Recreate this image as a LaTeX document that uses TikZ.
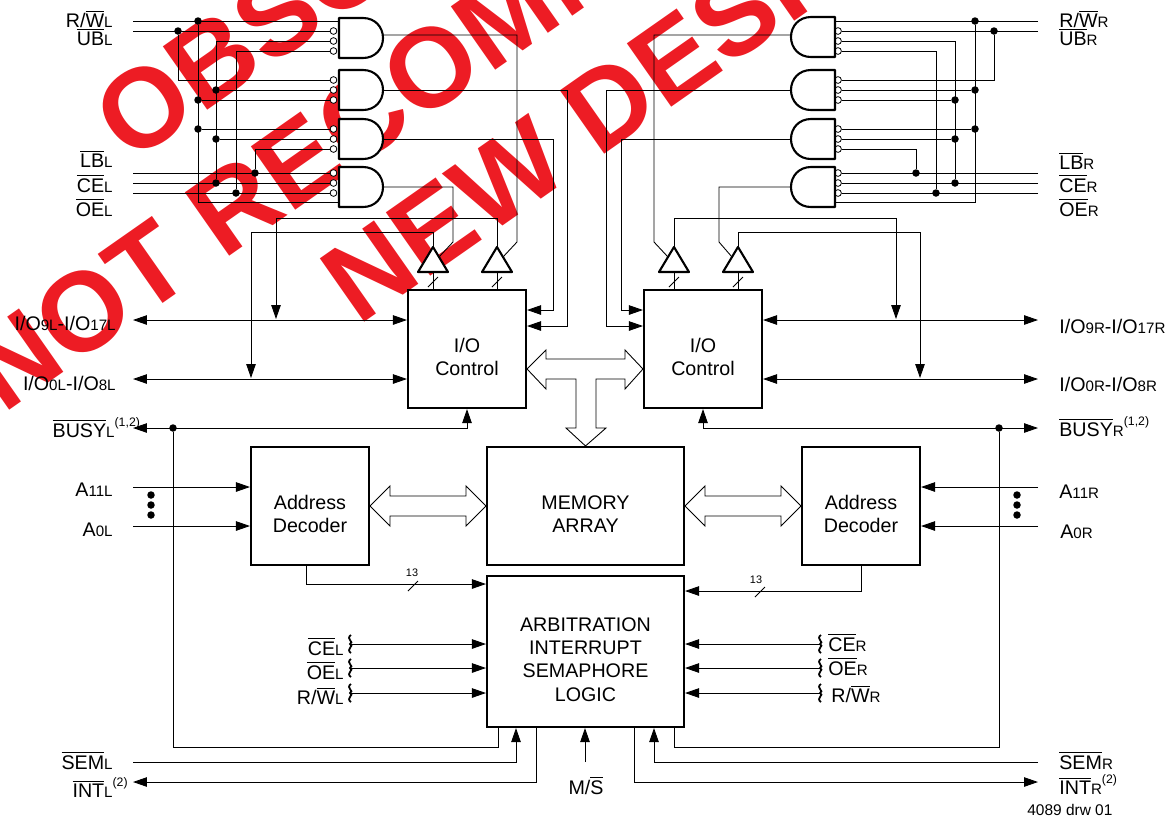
\documentclass[tikz,border=0pt]{standalone}
\usepackage{fontspec}
\setmainfont{Liberation Sans}
\usetikzlibrary{arrows.meta,calc}
\definecolor{wmred}{HTML}{ED1C24}
\newcommand{\ovl}[1]{$\overline{\mbox{#1}}$}
\newcommand{\sbs}[1]{{\fontsize{8.6}{9}\selectfont #1}}
\newcommand{\sps}[1]{\raisebox{1.05ex}{\fontsize{7}{8}\selectfont #1}}
\newcommand{\tgap}{\rule{0pt}{17pt}}
\tikzset{
	wire/.style = {line width = .5pt},
	gateline/.style = {line width = 1.2pt, fill = white, line join = round},
	block/.style = {draw, fill = white, line width = 1.2pt, minimum width = 2.36cm, minimum height = 2.36cm, inner sep = 0pt, align = center},
	busline/.style = {line width = .5pt, fill = white},
	dot/.style = {circle, fill = black, inner sep = 0pt, minimum size = .15cm},
	bubble/.style = {circle, draw, fill = white, inner sep = 0pt, minimum size = .135cm, line width = .45pt},
	lblL/.style = {anchor = base east, inner sep = 0pt},
	lblR/.style = {anchor = base west, inner sep = 0pt},
	wmark/.style = {rotate = 35, anchor = base west, inner sep = 0pt, text = wmred, font = \fontsize{64}{64}\bfseries\selectfont},
	andgate/.pic = {
		\draw[gateline] (0,0) -- (24,0) .. controls (36,0) and (44,9) .. (44,20) .. controls (44,31) and (36,40) .. (24,40) -- (0,40) -- cycle;
		\coordinate (-o) at (44,20);
		\coordinate (-b) at (0,20);
	},
	bufgate/.pic = {
		\draw[gateline] (0,0) -- (15,25) -- (-15,25) -- cycle;
		\coordinate (-a) at (0,0);
		\coordinate (-b) at (0,25);
		\coordinate (-s) at (6,10);
	},
	squig/.pic = {
		\draw[line width = 1pt] (1,-9) .. controls (-5,-5) and (5,-2) .. (0,0) .. controls (5,2) and (-5,5) .. (1,9);
		\coordinate (-c) at (0,0);
	}
}
\begin{document}
\begin{tikzpicture}[x = .02cm, y = -.02cm, font = \fontsize{11.2}{13.2}\selectfont, >={Triangle[length = 2.8mm, width = 1.9mm]}]
	\useasboundingbox (0,0) rectangle (1170,816);
	\begin{scope}
		\clip (0,0) rectangle (1170,816);
		\node[wmark] (wmA) at (130,165) {OBSOLETE};
		\node[wmark] (wmB) at (3,415) {NOT RECOMMENDED};
		\node[wmark] (wmC) at (358,327) {NEW DESIGNS};
	\end{scope}

	\coordinate (tRWL) at (133,21);
	\coordinate (tUBL) at (133,31);
	\coordinate (tLBL) at (133,173);
	\coordinate (tCEL) at (133,183);
	\coordinate (tOEL) at (133,193);
	\coordinate (tRWR) at (1038,21);
	\coordinate (tUBR) at (1038,31);
	\coordinate (tLBR) at (1038,173);
	\coordinate (tCER) at (1038,183);
	\coordinate (tOER) at (1038,193);

	\foreach \y in {31,41,51,80,90,100,129,139,149,173,183,193} {
		\node[bubble] (bL\y) at (333.5,\y) {};
		\node[bubble] (bR\y) at (838,\y) {};
	}
	\pic (gL1) at (339,18) {andgate};
	\pic (gL2) at (339,70) {andgate};
	\pic (gL3) at (339,119) {andgate};
	\pic (gL4) at (339,167) {andgate};
	\pic[xscale = -1] (gR1) at (835,17) {andgate};
	\pic[xscale = -1] (gR2) at (835,70) {andgate};
	\pic[xscale = -1] (gR3) at (835,119) {andgate};
	\pic[xscale = -1] (gR4) at (835,167) {andgate};

	\foreach \x/\y in {198/21,178/31,216/90,198/100,198/129,216/139,255/173,216/183,236/193,975/21,994/31,975/90,955/100,975/129,955/139,916/173,955/183,936/193,173/428,999/428,151/495,151/505,151/515,1017/495,1017/505,1017/515}
		\node[dot] (d\x-\y) at (\x,\y) {};

	%left gate inputs
	\draw[wire] (tRWL) -- (gL1-b |- tRWL);
	\draw[wire] (tUBL) -- (bL31);
	\draw[wire] (d178-31) |- (bL80);
	\draw[wire] (bL41) -| (d216-183);
	\draw[wire] (bL51) -| (d236-193);
	\draw[wire] (d198-21) |- (gL4-b |- 0,202);
	\draw[wire] (d216-90) -- (bL90);
	\draw[wire] (d198-100) -- (bL100);
	\draw[wire] (d198-129) -- (bL129);
	\draw[wire] (d216-139) -- (bL139);
	\draw[wire] (bL149) -| (d255-173);
	\draw[wire] (tLBL) -- (bL173);
	\draw[wire] (tCEL) -- (bL183);
	\draw[wire] (tOEL) -- (bL193);

	%right gate inputs
	\draw[wire] (tRWR) -- (gR1-b |- tRWR);
	\draw[wire] (tUBR) -- (bR31);
	\draw[wire] (d994-31) |- (bR80);
	\draw[wire] (bR41) -| (d955-183);
	\draw[wire] (bR51) -| (d936-193);
	\draw[wire] (d975-21) |- (gR4-b |- 0,202);
	\draw[wire] (d975-90) -- (bR90);
	\draw[wire] (d955-100) -- (bR100);
	\draw[wire] (d975-129) -- (bR129);
	\draw[wire] (d955-139) -- (bR139);
	\draw[wire] (bR149) -| (d916-173);
	\draw[wire] (tLBR) -- (bR173);
	\draw[wire] (tCER) -- (bR183);
	\draw[wire] (tOER) -- (bR193);

	\node[block] (ioL) at (467,349) {\tgap I/O\\Control};
	\node[block] (ioR) at (703,349) {\tgap I/O\\Control};
	\node[block, minimum width = 2.36cm] (adL) at (310,506) {\tgap Address\\Decoder};
	\node[block, minimum width = 2.36cm] (adR) at (861,506) {\tgap Address\\Decoder};
	\node[block, minimum width = 3.94cm] (mem) at (585.5,506) {\tgap MEMORY\\ARRAY};
	\node[block, minimum width = 3.94cm, minimum height = 3.02cm] (arb) at (585.5,651.5) {\tgap ARBITRATION\\INTERRUPT\\SEMAPHORE\\LOGIC};

	\pic (trL1) at (433,247) {bufgate};
	\pic (trL2) at (497,247) {bufgate};
	\pic[xscale = -1] (trR1) at (674,247) {bufgate};
	\pic[xscale = -1] (trR2) at (738,247) {bufgate};

	\foreach \n in {trL1,trL2,trR1,trR2} {
		\draw[wire] (\n-b) -- ++(0,18);
		\draw[wire] (\n-b) ++(-5,15) -- ++(10,-10); %slash
	}

	%gate outputs
	\draw[wire] (gL1-o |- 0,35) -| (517,242) -- (trL2-s);
	\draw[wire] (gL4-o) -| (453,242) -- (trL1-s);
	\draw[wire,->] (gL2-o) -| (567,326) -- (ioL.east |- 0,326);
	\draw[wire,->] (gL3-o) -| (553,310) -- (ioL.east |- 0,310);
	\draw[wire] (gR1-o |- 0,35) -| (654,242) -- (trR1-s);
	\draw[wire] (gR4-o) -| (719,242) -- (trR2-s);
	\draw[wire,->] (gR2-o) -| (606,326) -- (ioR.west |- 0,326);
	\draw[wire,->] (gR3-o) -| (621,310) -- (ioR.west |- 0,310);

	%enable lines
	\draw[wire,->] (trL2-a) |- (276,218) -- (276,319);
	\draw[wire,->] (trL1-a) |- (251,232) -- (251,378);
	\draw[wire,->] (trR1-a) |- (896,218) -- (896,319);
	\draw[wire,->] (trR2-a) |- (920,232) -- (920,378);

	%data lines
	\coordinate (tIOaL) at (133,320);
	\coordinate (tIObL) at (133,379);
	\coordinate (tIOaR) at (1038,320);
	\coordinate (tIObR) at (1038,379);
	\draw[wire,<->] (tIOaL) -- (ioL.west |- tIOaL);
	\draw[wire,<->] (tIObL) -- (ioL.west |- tIObL);
	\draw[wire,<->] (tIOaR) -- (ioR.east |- tIOaR);
	\draw[wire,<->] (tIObR) -- (ioR.east |- tIObR);

	%busy lines
	\coordinate (tBUL) at (133,428);
	\coordinate (tBUR) at (1038,428);
	\draw[wire,<->] (tBUL) -| (ioL.south);
	\draw[wire,<->] (tBUR) -| (ioR.south);
	\draw[wire] (d173-428) |- (498,747) -- (arb.south -| 498,0);
	\draw[wire] (d999-428) |- (674,747) -- (arb.south -| 674,0);

	%address lines
	\coordinate (tAaL) at (133,487);
	\coordinate (tAbL) at (133,526);
	\coordinate (tAaR) at (1038,487);
	\coordinate (tAbR) at (1038,526);
	\draw[wire,->] (tAaL) -- (adL.west |- tAaL);
	\draw[wire,->] (tAbL) -- (adL.west |- tAbL);
	\draw[wire,->] (tAaR) -- (adR.east |- tAaR);
	\draw[wire,->] (tAbR) -- (adR.east |- tAbR);

	\draw[wire,->] (adL.south -| 306,0) |- (arb.west |- 0,584);
	\draw[wire,->] (adR.south) |- (arb.east |- 0,591);
	\draw[wire] (408,591) -- (418,581);
	\draw[wire] (755,597) -- (765,587);
	\node[font = \fontsize{6.2}{7}\selectfont, inner sep = 0pt] (nL) at (412,573) {13};
	\node[font = \fontsize{6.2}{7}\selectfont, inner sep = 0pt] (nR) at (756,580) {13};

	%buses
	\draw[busline] (ioL.east |- 0,369) -- (546,350) -- (546,359) -- (625,359) -- (625,350) -- (ioR.west |- 0,369) -- (625,389) -- (625,379) -- (596,379) -- (596,428) -- (606,428) -- (mem.north) -- (566,428) -- (576,428) -- (576,379) -- (546,379) -- (546,389) -- cycle;
	\foreach \a/\b in {adL/mem,mem/adR}
		\draw[busline] (\a.east) -- ++(20,-20) -- ++(0,10) -- ($(\b.west)+(-20,-10)$) -- ++(0,-10) -- (\b.west) -- ++(-20,20) -- ++(0,-10) -- ($(\a.east)+(20,10)$) -- ++(0,10) -- cycle;

	%arbitration inputs
	\foreach \i/\y in {1/644,2/668,3/693} {
		\pic (sqL\i) at (350,\y) {squig};
		\pic (sqR\i) at (820,\y) {squig};
		\draw[wire,->] (sqL\i-c) -- (arb.west |- sqL\i-c);
		\draw[wire,->] (sqR\i-c) -- (arb.east |- sqR\i-c);
	}
	\coordinate (tSEL) at (133,762);
	\coordinate (tSER) at (1038,762);
	\coordinate (tINL) at (133,782);
	\coordinate (tINR) at (1038,782);
	\coordinate (tMS) at (585,762);
	\draw[wire,->] (tSEL) -| (arb.south -| 516,0);
	\draw[wire,->] (tSER) -| (arb.south -| 654,0);
	\draw[wire,<-] (tINL) -| (arb.south -| 536,0);
	\draw[wire,<-] (tINR) -| (arb.south -| 634,0);
	\draw[wire,->] (tMS) -- (arb.south -| tMS);

	%left labels
	\node[lblL] (lRWL) at (113,27) {R/\ovl{W}\sbs{L}};
	\node[lblL] (lUBL) at (113,45) {\ovl{UB}\sbs{L}};
	\node[lblL] (lLBL) at (113,167) {\ovl{LB}\sbs{L}};
	\node[lblL] (lCEL) at (113,192) {\ovl{CE}\sbs{L}};
	\node[lblL] (lOEL) at (113,216) {\ovl{OE}\sbs{L}};
	\node[lblL] (lIOaL) at (116,330) {I/O\sbs{9L}-I/O\sbs{17L}};
	\node[lblL] (lIObL) at (116,390) {I/O\sbs{0L}-I/O\sbs{8L}};
	\node[lblL] (lBUL) at (115,437) {\ovl{BUSY}\sbs{L}\rlap{\sps{(1,2)}}};
	\node[lblL] (lAaL) at (113,496) {A\sbs{11L}};
	\node[lblL] (lAbL) at (113,536) {A\sbs{0L}};
	\node[lblL] (lSEL) at (113,769) {\ovl{SEM}\sbs{L}};
	\node[lblL] (lINL) at (113,797) {\ovl{INT}\sbs{L}\rlap{\sps{(2)}}};

	%right labels
	\node[lblR] (lRWR) at (1059,27) {R/\ovl{W}\sbs{R}};
	\node[lblR] (lUBR) at (1059,45) {\ovl{UB}\sbs{R}};
	\node[lblR] (lLBR) at (1059,169) {\ovl{LB}\sbs{R}};
	\node[lblR] (lCER) at (1059,192) {\ovl{CE}\sbs{R}};
	\node[lblR] (lOER) at (1059,216) {\ovl{OE}\sbs{R}};
	\node[lblR] (lIOaR) at (1059,333) {I/O\sbs{9R}-I/O\sbs{17R}};
	\node[lblR] (lIObR) at (1059,391) {I/O\sbs{0R}-I/O\sbs{8R}};
	\node[lblR] (lBUR) at (1059,436) {\ovl{BUSY}\sbs{R}\sps{(1,2)}};
	\node[lblR] (lAaR) at (1059,498) {A\sbs{11R}};
	\node[lblR] (lAbR) at (1060,538) {A\sbs{0R}};
	\node[lblR] (lSER) at (1059,769) {\ovl{SEM}\sbs{R}};
	\node[lblR] (lINR) at (1059,794) {\ovl{INT}\sbs{R}\sps{(2)}};

	%arbitration labels
	\node[lblL] (aCEL) at (344,655) {\ovl{CE}\sbs{L}};
	\node[lblL] (aOEL) at (344,679) {\ovl{OE}\sbs{L}};
	\node[lblL] (aRWL) at (344,704) {R/\ovl{W}\sbs{L}};
	\node[lblR] (aCER) at (828,651) {\ovl{CE}\sbs{R}};
	\node[lblR] (aOER) at (828,675) {\ovl{OE}\sbs{R}};
	\node[lblR] (aRWR) at (831,702) {R/\ovl{W}\sbs{R}};
	\node[inner sep = 0pt, anchor = base] (lMS) at (586,794) {M/\ovl{S}};
	\node[inner sep = 0pt, anchor = base west, font = \fontsize{8.8}{9}\selectfont] (lDrw) at (1027,815) {4089 drw 01};
\end{tikzpicture}
\end{document}
